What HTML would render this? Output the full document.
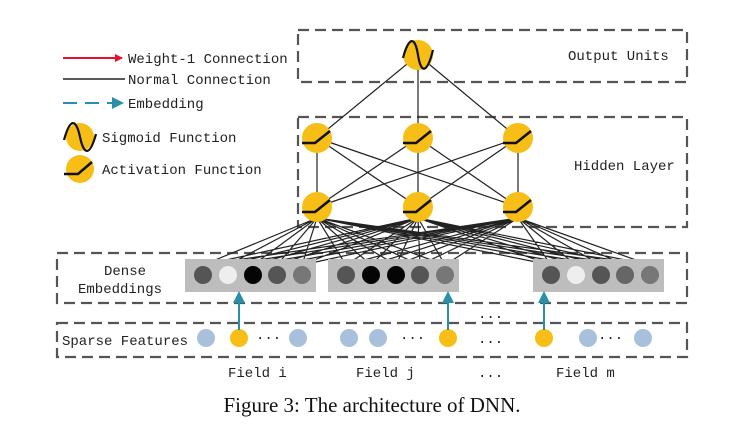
<!DOCTYPE html>
<html><head><meta charset="utf-8"><style>
html,body{margin:0;padding:0;background:#fff;}
svg{display:block;}
text{font-family:"Liberation Mono",monospace;font-size:14px;fill:#222;}
</style></head><body>
<svg width="740" height="424" viewBox="0 0 740 424" xmlns="http://www.w3.org/2000/svg">
<defs>
<marker id="ar" markerWidth="8" markerHeight="8" refX="7" refY="4" orient="auto" markerUnits="userSpaceOnUse"><path d="M0,0 L8,4 L0,8z" fill="#e8112d"/></marker>
<marker id="at" markerWidth="12" markerHeight="12" refX="10" refY="6" orient="auto" markerUnits="userSpaceOnUse"><path d="M0,0 L12,6 L0,12z" fill="#2a8fa8"/></marker>
</defs>
<g fill="none" stroke="#555" stroke-width="2.2" stroke-dasharray="11,6">
<rect x="298" y="30" width="389" height="52"/>
<rect x="298" y="117" width="389" height="110"/>
<rect x="57" y="253" width="630" height="50"/>
<rect x="57" y="323" width="630" height="34"/>
</g>
<line x1="63" y1="58" x2="122" y2="58" stroke="#e8112d" stroke-width="2" marker-end="url(#ar)"/>
<text x="128" y="63">Weight-1 Connection</text>
<line x1="63" y1="79" x2="125" y2="79" stroke="#222" stroke-width="1.5"/>
<text x="128" y="84">Normal Connection</text>
<line x1="63" y1="103" x2="122" y2="103" stroke="#2a8fa8" stroke-width="2" stroke-dasharray="14,8" marker-end="url(#at)"/>
<text x="128" y="108">Embedding</text>
<circle cx="80" cy="137" r="14" fill="#f6be16"/>
<path d="M64,140 C70,118 76,118 80,137 C84,156 90,156 96,134" fill="none" stroke="#111" stroke-width="2.2"/>
<text x="102" y="142">Sigmoid Function</text>
<circle cx="80" cy="169" r="14" fill="#f6be16"/>
<path d="M64,174 L78,174 L92,162" fill="none" stroke="#111" stroke-width="2.5"/>
<text x="102" y="174">Activation Function</text>
<text x="568" y="60">Output Units</text>
<text x="574" y="170">Hidden Layer</text>
<text x="104" y="275">Dense</text>
<text x="78" y="293">Embeddings</text>
<text x="62" y="345">Sparse Features</text>
<text x="228" y="377">Field i</text>
<text x="356" y="377">Field j</text>
<text x="478" y="377">...</text>
<text x="556" y="377">Field m</text>
<text x="478" y="318">...</text>
<text x="478" y="343">...</text>
<g stroke="#222" stroke-width="1.2" fill="none">
<path d="M418,55L317,138M418,55L418,138M418,55L518,138"/>
<path d="M317,138L317,207M317,138L418,207M317,138L518,207M418,138L317,207M418,138L418,207M418,138L518,207M518,138L317,207M518,138L418,207M518,138L518,207"/>
<path d="M317,218L203,265M317,218L228,265M317,218L253,265M317,218L277,265M317,218L302,265M317,218L346,265M317,218L371,265M317,218L396,265M317,218L420,265M317,218L445,265M317,218L551,265M317,218L576,265M317,218L601,265M317,218L625,265M317,218L650,265
M418,218L203,265M418,218L228,265M418,218L253,265M418,218L277,265M418,218L302,265M418,218L346,265M418,218L371,265M418,218L396,265M418,218L420,265M418,218L445,265M418,218L551,265M418,218L576,265M418,218L601,265M418,218L625,265M418,218L650,265
M518,218L203,265M518,218L228,265M518,218L253,265M518,218L277,265M518,218L302,265M518,218L346,265M518,218L371,265M518,218L396,265M518,218L420,265M518,218L445,265M518,218L551,265M518,218L576,265M518,218L601,265M518,218L625,265M518,218L650,265"/>
</g>
<g fill="#f6be16">
<circle cx="418" cy="55" r="15"/>
<circle cx="317" cy="138" r="15"/><circle cx="418" cy="138" r="15"/><circle cx="518" cy="138" r="15"/>
<circle cx="317" cy="207" r="15"/><circle cx="418" cy="207" r="15"/><circle cx="518" cy="207" r="15"/>
</g>
<path d="M403,58 C409,36 415,36 418,55 C421,74 427,74 433,50" fill="none" stroke="#111" stroke-width="2.2"/>
<g fill="none" stroke="#111" stroke-width="2.6">
<path d="M302,143 L315,143 L330,131"/><path d="M403,143 L416,143 L431,131"/><path d="M503,143 L516,143 L531,131"/>
<path d="M302,212 L315,212 L330,200"/><path d="M403,212 L416,212 L431,200"/><path d="M503,212 L516,212 L531,200"/>
</g>
<g fill="#bdbdbd">
<rect x="185" y="259" width="131" height="33"/>
<rect x="328" y="259" width="131" height="33"/>
<rect x="533" y="259" width="131" height="33"/>
</g>
<g>
<circle cx="203" cy="275" r="9" fill="#555"/><circle cx="228" cy="275" r="9" fill="#eee"/><circle cx="253" cy="275" r="9" fill="#050505"/><circle cx="277" cy="275" r="9" fill="#555"/><circle cx="302" cy="275" r="9" fill="#777"/>
<circle cx="346" cy="275" r="9" fill="#555"/><circle cx="371" cy="275" r="9" fill="#050505"/><circle cx="396" cy="275" r="9" fill="#050505"/><circle cx="420" cy="275" r="9" fill="#555"/><circle cx="445" cy="275" r="9" fill="#777"/>
<circle cx="551" cy="275" r="9" fill="#555"/><circle cx="576" cy="275" r="9" fill="#eee"/><circle cx="601" cy="275" r="9" fill="#555"/><circle cx="625" cy="275" r="9" fill="#666"/><circle cx="650" cy="275" r="9" fill="#777"/>
</g>
<g fill="#a9c0dc">
<circle cx="206" cy="338" r="9"/><circle cx="298" cy="338" r="9"/>
<circle cx="349" cy="338" r="9"/><circle cx="378" cy="338" r="9"/>
<circle cx="588" cy="338" r="9"/><circle cx="643" cy="338" r="9"/>
</g>
<g fill="#f6be16">
<circle cx="239" cy="338" r="9"/><circle cx="448" cy="338" r="9"/><circle cx="544" cy="338" r="9"/>
</g>
<text x="256" y="342">···</text><text x="400" y="342">···</text><text x="598" y="342">···</text>
<g stroke="#2a8fa8" stroke-width="2" marker-end="url(#at)">
<line x1="239" y1="330" x2="239" y2="293"/>
<line x1="448" y1="330" x2="448" y2="293"/>
<line x1="544" y1="330" x2="544" y2="293"/>
</g>
<text x="372" y="412" text-anchor="middle" style="font-family:'Liberation Serif',serif;font-size:21px;fill:#111">Figure 3: The architecture of DNN.</text>
</svg>
</body></html>
